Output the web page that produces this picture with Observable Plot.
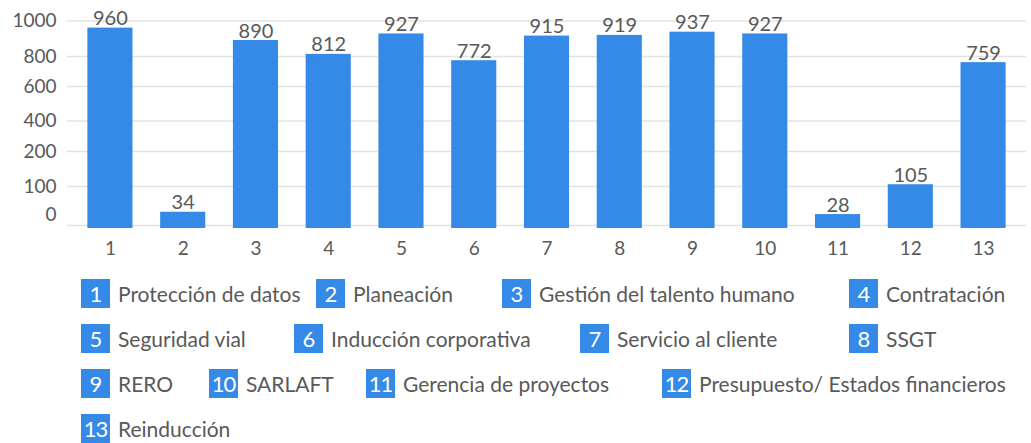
<!DOCTYPE html>
<html>
<head>
<meta charset="utf-8">
<script src="https://cdn.jsdelivr.net/npm/d3@7"></script>
<script src="https://cdn.jsdelivr.net/npm/@observablehq/plot@0.6"></script>
<style>
  body { margin: 0; background: #fff; font-family: Lato, "Noto Sans", sans-serif; }
  #chart svg { display: block; }
  #legend { position: relative; height: 173px; margin-top: 9px; }
  .row { position: relative; height: 29px; margin-bottom: 16px; }
  .item { position: absolute; top: 0; display: flex; align-items: center; height: 29px; white-space: nowrap; }
  .box { width: 29px; height: 29px; background: #348ae6; color: #fff; font-size: 22px; display: flex; align-items: center; justify-content: center; letter-spacing: -1px; }
  .lbl { margin-left: 8px; font-size: 21px; color: #595959; }
</style>
</head>
<body>
<div id="chart"></div>
<div id="legend"></div>
<script>
const categories = ["1","2","3","4","5","6","7","8","9","10","11","12","13"];
const names = ["Protección de datos","Planeación","Gestión del talento humano","Contratación",
  "Seguridad vial","Inducción corporativa","Servicio al cliente","SSGT",
  "RERO","SARLAFT","Gerencia de proyectos","Presupuesto/ Estados financieros","Reinducción"];
const values = [960, 34, 890, 812, 927, 772, 915, 919, 937, 927, 28, 105, 759];
const yTicks = [0, 100, 200, 400, 600, 800, 1000];

// layout only (legend item left offsets, px)
const legendLeft = [81, 316, 502, 849, 81, 294, 580, 849, 81, 209, 366, 662, 81];

const data = categories.map((c, i) => ({cat: c, value: values[i]}));
const blue = "#348ae6";
const gray = "#595959";

const chart = Plot.plot({
  width: 1031,
  height: 270,
  marginLeft: 67,
  marginRight: 5,
  marginTop: 20,
  marginBottom: 45,
  style: {fontFamily: "Lato, 'Noto Sans', sans-serif", color: gray, background: "#fff"},
  x: {domain: categories, paddingInner: 0.38, paddingOuter: 0.28, round: false, label: null},
  y: {type: "linear", domain: yTicks, range: [225, 186, 151, 120.5, 86, 56, 20.5], label: null},
  marks: [
    Plot.gridY(yTicks, {stroke: "#e3e3e3", strokeOpacity: 1, strokeWidth: 1.5}),
    Plot.barY(data, {x: "cat", y: "value", fill: blue, insetBottom: -3}),
    Plot.text(data, {x: "cat", y: "value", text: d => String(d.value), lineAnchor: "bottom", dy: -3, fill: gray, fontSize: 20}),
    Plot.axisY(yTicks.filter(d => d > 0), {tickSize: 0, tickPadding: 11, fontSize: 19, fill: gray, tickFormat: d => String(d), label: null}),
    Plot.axisY([0], {tickSize: 0, tickPadding: 11, fontSize: 19, fill: gray, tickFormat: d => String(d), dy: -11, label: null}),
    Plot.axisX({tickSize: 0, tickPadding: 16, fontSize: 19, fill: gray, label: null})
  ]
});
document.getElementById("chart").appendChild(chart);

const legend = document.getElementById("legend");
for (let r = 0; r < Math.ceil(categories.length / 4); r++) {
  const row = document.createElement("div");
  row.className = "row";
  for (let i = r * 4; i < Math.min(categories.length, r * 4 + 4); i++) {
    const item = document.createElement("div");
    item.className = "item";
    item.style.left = legendLeft[i] + "px";
    const box = document.createElement("div");
    box.className = "box";
    box.textContent = categories[i];
    const lbl = document.createElement("span");
    lbl.className = "lbl";
    lbl.textContent = names[i];
    item.appendChild(box);
    item.appendChild(lbl);
    row.appendChild(item);
  }
  legend.appendChild(row);
}
</script>
</body>
</html>
